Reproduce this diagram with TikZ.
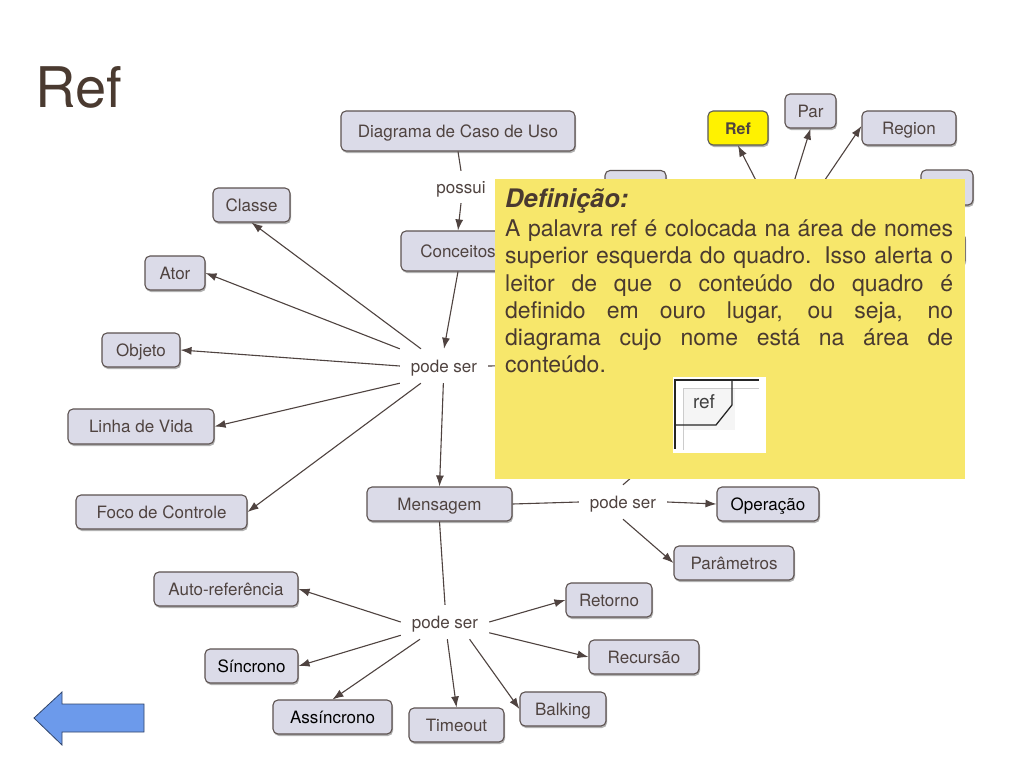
\documentclass[tikz,border=0pt]{standalone}
\usepackage{fontspec}
\setmainfont{TeX Gyre Heros}
\usetikzlibrary{arrows.meta,shadows}
\definecolor{ink}{HTML}{4F4340}
\definecolor{noteink}{HTML}{4A3A30}
\definecolor{edge}{HTML}{5C5250}
\definecolor{boxfill}{HTML}{DBDBE8}
\definecolor{note}{HTML}{F7E76B}
\definecolor{backarrow}{HTML}{6C9AEB}
\tikzset{
  x=1pt,y=-1pt,
  concept/.style={draw=edge,line width=1.1pt,fill=boxfill,rounded corners=5pt,text=ink,font=\fontsize{17}{20}\selectfont,
    inner sep=0pt,text height=14pt,text depth=2pt,drop shadow={shadow xshift=1pt,shadow yshift=-2pt,opacity=.3,fill=black}},
  blackconcept/.style={concept,text=black},
  highlight/.style={concept,fill=yellow,draw=black!65,font=\fontsize{16}{20}\selectfont\bfseries},
  linker/.style={text=ink,font=\fontsize{17}{20}\selectfont,minimum width=88pt,minimum height=34pt,inner sep=0pt,text height=14pt,text depth=2pt},
  conn/.style={draw=ink,line width=1.1pt},
  arr/.style={conn,-{Latex[length=11pt,width=8pt]}},
}
\newcommand{\cbox}[6][concept]{\node[#1,minimum width=#4pt,minimum height=#5pt] (#2) at (#3) {#6};}
\begin{document}
\begin{tikzpicture}
\useasboundingbox (0,0) rectangle (1024,768);
\fill[white] (0,0) rectangle (1024,768);
\node[anchor=base west,text=noteink,font=\fontsize{56}{60}\selectfont,inner sep=0pt] (title) at (35,107) {Ref};

\cbox{diag}{458,131}{234}{40}{Diagrama de Caso de Uso}
\cbox{classe}{251.5,205}{77}{34}{Classe}
\cbox{ator}{175,273}{60}{34}{Ator}
\cbox{objeto}{141,350}{78}{34}{Objeto}
\cbox{linha}{141,426.5}{146}{35}{Linha de Vida}
\cbox{foco}{161.5,512}{171}{34}{Foco de Controle}
\cbox{conc}{458,251}{114}{40}{Conceitos}
\cbox{msg}{439.5,504}{145}{34}{Mensagem}
\cbox[blackconcept]{oper}{768,504}{102}{34}{Operação}
\cbox{param}{734,563}{120}{34}{Parâmetros}
\cbox{auto}{226,589}{144}{34}{Auto-referência}
\cbox[blackconcept]{sinc}{251.5,666}{93}{34}{Síncrono}
\cbox[blackconcept]{assi}{332.5,717}{119}{34}{Assíncrono}
\cbox{time}{456.5,725}{95}{34}{Timeout}
\cbox{balk}{563,709}{86}{34}{Balking}
\cbox{recu}{644,657}{110}{34}{Recursão}
\cbox{reto}{609,600}{86}{34}{Retorno}
\cbox[highlight]{refb}{738,128}{60}{34}{Ref}
\cbox{par}{810.5,111}{51}{34}{Par}
\cbox{regi}{909,128}{94}{34}{Region}
\cbox{hida}{635.5,188}{61}{35}{}
\cbox{hidb}{947,187.5}{52}{35}{}
\cbox{hidc}{920,249}{90}{33}{}

\node[linker,minimum width=60pt,minimum height=32pt] (possui) at (461,187) {possui};
\node[linker] (ps1) at (444,366) {pode ser};
\node[linker] (ps2) at (445,622) {pode ser};
\node[linker] (ps3) at (623,502) {pode ser};
\coordinate (huba) at (780,227);
\coordinate (hubb) at (793,227);
\coordinate (under1) at (560,365);
\coordinate (under3) at (672,442);

\draw[conn] (diag.south) -- (possui.north);
\draw[arr] (possui.south) -- (conc.north);
\draw[arr] (conc.south) -- (ps1.north);
\draw[arr] (ps1) -- (classe.south);
\draw[arr] (ps1) -- (ator.east);
\draw[arr] (ps1.west) -- (objeto.east);
\draw[arr] (ps1.south west) -- (linha.east);
\draw[arr] (ps1) -- (foco.east);
\draw[arr] (ps1) -- (msg.north);
\draw[conn] (ps1.east) -- (under1);
\draw[conn] (msg.south) -- (ps2.north);
\draw[conn] (msg.east) -- (ps3.west);
\draw[arr] (ps3.east) -- (oper.west);
\draw[arr] (ps3.south) -- (param.west);
\draw[conn] (ps3.north) -- (under3);
\draw[arr] (ps2.west) -- (auto.east);
\draw[arr] (ps2) -- (sinc.east);
\draw[arr] (ps2) -- (assi.north);
\draw[arr] (ps2) -- (time.north);
\draw[arr] (ps2.-35) -- (balk.west);
\draw[arr] (ps2) -- (recu.west);
\draw[arr] (ps2.east) -- (reto.west);
\draw[arr] (huba) -- (refb.south);
\draw[arr] (huba) -- (par.south);
\draw[arr] (hubb) -- ([yshift=2pt]regi.west);

\node[fill=note,minimum width=470pt,minimum height=300pt,inner sep=0pt] (notebg) at (730,329) {};
\node[anchor=north west,inner sep=0pt,text width=448pt,align=justify,text=noteink,font=\fontsize{23}{27.2}\selectfont] (notetext) at (505,188)
  {\hyphenpenalty=10000\tolerance=9999\hbadness=10000{\fontsize{25.5}{29.5}\selectfont\bfseries\itshape Definição:}\\[2.5pt]
  A palavra ref é colocada na área de nomes\linebreak
  superior esquerda do quadro. Isso alerta o\linebreak
  leitor de que o conteúdo do quadro é\linebreak
  definido em ouro lugar, ou seja, no\linebreak
  diagrama cujo nome está na área de\linebreak
  conteúdo.\par};

\node[fill=white,minimum width=93pt,minimum height=76pt,inner sep=0pt] (refimg) at (719.5,415) {};
\fill[black!4] (683,388) rectangle (735,430);
\draw[black!20,line width=.8pt] (683,388) -- (759,388) (683,388) -- (683,450);
\node[text=black!75,font=\fontsize{19}{22}\selectfont,inner sep=0pt] (reftag) at (704,402) {ref};
\draw[black!85,line width=1.3pt] (759,380) -- (675,380) -- (675,449);
\draw[black!85,line width=1.3pt] (732,380) -- (732,405) -- (716,425) -- (675,425);

\draw[draw=black!55!backarrow,line width=.8pt,fill=backarrow] (34,718) -- (62,692) -- (62,704) -- (144,704) -- (144,732) -- (62,732) -- (62,745) -- cycle;
\end{tikzpicture}
\end{document}
